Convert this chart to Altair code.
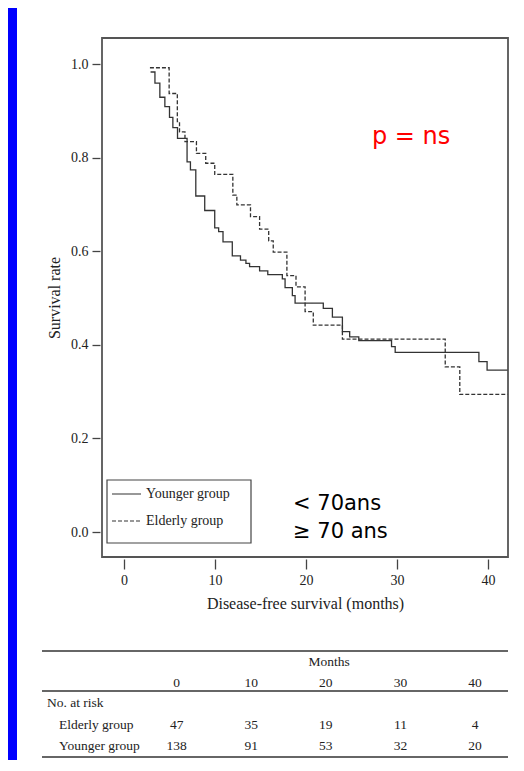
import altair as alt
import pandas as pd

# ---------------- data ----------------
groups = ["Younger group", "Elderly group"]

young_months = [2.92, 3.40, 3.94, 4.49, 5.00, 5.37, 5.88, 6.93, 7.30, 7.89, 8.87, 9.97,
                10.4, 10.88, 11.9, 12.8, 13.4, 13.8, 14.9, 15.8, 17.4, 17.7, 18.5, 18.8,
                21.9, 22.9, 24.0, 24.8, 25.8, 29.4, 29.8, 39.0, 39.9, 42.15]
young_surv = [0.983, 0.959, 0.929, 0.909, 0.886, 0.864, 0.841, 0.791, 0.774, 0.718, 0.687, 0.650,
              0.642, 0.620, 0.590, 0.581, 0.574, 0.567, 0.558, 0.550, 0.541, 0.522, 0.505, 0.489,
              0.478, 0.459, 0.428, 0.417, 0.409, 0.396, 0.384, 0.364, 0.346, 0.346]

elderly_months = [2.85, 4.96, 5.86, 6.1, 6.7, 7.96, 8.98, 9.97, 11.96, 12.4, 13.9, 14.9,
                  15.9, 16.4, 17.9, 18.9, 19.9, 20.8, 24.0, 35.3, 36.9, 42.15]
elderly_surv = [0.992, 0.937, 0.877, 0.855, 0.834, 0.809, 0.788, 0.764, 0.720, 0.699, 0.674, 0.647,
                0.622, 0.598, 0.548, 0.524, 0.471, 0.442, 0.412, 0.353, 0.294, 0.294]

x_ticks = [0, 10, 20, 30, 40]
y_ticks = [0.0, 0.2, 0.4, 0.6, 0.8, 1.0]

risk_months = [0, 10, 20, 30, 40]
risk_rows = ["Elderly group", "Younger group"]
risk_elderly = [47, 35, 19, 11, 4]
risk_younger = [138, 91, 53, 32, 20]

p_text = ["p = ns"]
age_texts = ["< 70ans", "≥ 70 ans"]
table_title = ["Months"]
table_subtitle = ["No. at risk"]

# ---------------- tables built from the lists ----------------
km_df = pd.concat([
    pd.DataFrame({"month": young_months, "surv": young_surv, "group": groups[0]}),
    pd.DataFrame({"month": elderly_months, "surv": elderly_surv, "group": groups[1]}),
])
legend_df = pd.DataFrame({"group": groups})
risk_head_df = pd.DataFrame({"month": risk_months})
risk_df = pd.concat([
    pd.DataFrame({"month": risk_months, "n": risk_elderly, "row": risk_rows[0]}),
    pd.DataFrame({"month": risk_months, "n": risk_younger, "row": risk_rows[1]}),
])
rows_df = pd.DataFrame({"row": risk_rows})
one = pd.DataFrame({"a": [0]})

SERIF = "Liberation Serif"
INK = "#222222"
LINE = "#333333"
TS = 13.5  # serif text size
dash_scale = alt.Scale(domain=groups, range=[[1, 0], [4, 2]])

km = alt.Chart(km_df).mark_line(interpolate="step-after", color=LINE, strokeWidth=1.3).encode(
    x=alt.X("month:Q",
            scale=alt.Scale(domain=[-2.418, 42.198], nice=False, zero=False),
            axis=alt.Axis(values=x_ticks, format="d", title="Disease-free survival (months)",
                          grid=False, domain=False, offset=2, tickSize=10, tickColor="#444",
                          tickWidth=1.3, labelPadding=4, labelFont=SERIF, labelFontSize=14,
                          labelColor=INK, titleFont=SERIF, titleFontSize=16,
                          titleFontWeight="normal", titleColor=INK, titlePadding=8)),
    y=alt.Y("surv:Q",
            scale=alt.Scale(domain=[-0.0534, 1.0556], nice=False, zero=False),
            axis=alt.Axis(values=y_ticks, format=".1f", title="Survival rate",
                          grid=False, domain=False, offset=2, tickSize=8, tickColor="#444",
                          tickWidth=1.3, labelPadding=4, labelFont=SERIF, labelFontSize=14,
                          labelColor=INK, titleFont=SERIF, titleFontSize=16,
                          titleFontWeight="normal", titleColor=INK, titlePadding=8)),
    strokeDash=alt.StrokeDash("group:N", scale=dash_scale, legend=None),
)

leg_y = alt.Y("group:N", scale=alt.Scale(type="point", domain=groups, range=[456, 483], padding=0),
              axis=None)
legend_box = alt.Chart(one).mark_rect(fill="white", stroke="#444", strokeWidth=1.2).encode(
    x=alt.value(5), x2=alt.value(149), y=alt.value(442), y2=alt.value(505))
legend_lines = alt.Chart(legend_df).mark_rule(color=LINE, strokeWidth=1.2).encode(
    x=alt.value(10), x2=alt.value(39), y=leg_y,
    strokeDash=alt.StrokeDash("group:N", scale=dash_scale, legend=None))
legend_text = alt.Chart(legend_df).mark_text(
    align="left", baseline="middle", font=SERIF, fontSize=14, color=INK).encode(
    x=alt.value(44), y=leg_y, text="group:N")

p_layer = alt.Chart(pd.DataFrame({"t": p_text})).mark_text(
    align="left", baseline="alphabetic", font="DejaVu Sans", fontSize=24, color="#ff0000").encode(
    x=alt.value(270), y=alt.value(106), text="t:N")
age_layer = alt.Chart(pd.DataFrame({"t": age_texts})).mark_text(
    align="left", baseline="alphabetic", font="DejaVu Sans", fontSize=21, color="#000000").encode(
    x=alt.value(191),
    y=alt.Y("t:N", scale=alt.Scale(type="point", domain=age_texts, range=[472, 500], padding=0),
            axis=None),
    text="t:N")

blue = alt.Chart(one).mark_rect(color="#0000ff").encode(
    x=alt.value(-94), x2=alt.value(-85), y=alt.value(-30), y2=alt.value(725))

# ---------------- at-risk table ----------------
col_x = alt.X("month:Q", scale=alt.Scale(domain=[0, 40], range=[74.7, 373]), axis=None)
row_y = alt.Y("row:N", scale=alt.Scale(type="point", domain=risk_rows, range=[687, 708], padding=0),
              axis=None)

def hline(ypix):
    return alt.Chart(one).mark_rule(color="#333", strokeWidth=1.4).encode(
        x=alt.value(-60), x2=alt.value(406), y=alt.value(ypix))

t_title = alt.Chart(pd.DataFrame({"t": table_title})).mark_text(
    font=SERIF, fontSize=TS, color=INK, baseline="middle").encode(
    x=alt.value(227), y=alt.value(624), text="t:N")
t_head = alt.Chart(risk_head_df).mark_text(
    font=SERIF, fontSize=TS, color=INK, baseline="middle").encode(
    x=col_x, y=alt.value(645), text="month:Q")
t_sub = alt.Chart(pd.DataFrame({"t": table_subtitle})).mark_text(
    font=SERIF, fontSize=TS, color=INK, baseline="middle", align="left").encode(
    x=alt.value(-55), y=alt.value(665), text="t:N")
t_rows = alt.Chart(rows_df).mark_text(
    font=SERIF, fontSize=TS, color=INK, baseline="middle", align="left").encode(
    x=alt.value(-43), y=row_y, text="row:N")
t_vals = alt.Chart(risk_df).mark_text(
    font=SERIF, fontSize=TS, color=INK, baseline="middle").encode(
    x=col_x, y=row_y, text="n:Q")

chart = alt.layer(
    blue, km, legend_box, legend_lines, legend_text, p_layer, age_layer,
    hline(613), hline(653), hline(719), t_title, t_head, t_sub, t_rows, t_vals,
).resolve_scale(x="independent", y="independent").properties(
    width=406, height=519,
    autosize=alt.AutoSizeParams(type="none"),
    padding={"left": 94, "top": 30, "right": 8, "bottom": 203},
    background="white",
).configure_view(stroke="#555", strokeWidth=1.8)

chart.save("out.html", embed_options={"renderer": "svg", "actions": False})
